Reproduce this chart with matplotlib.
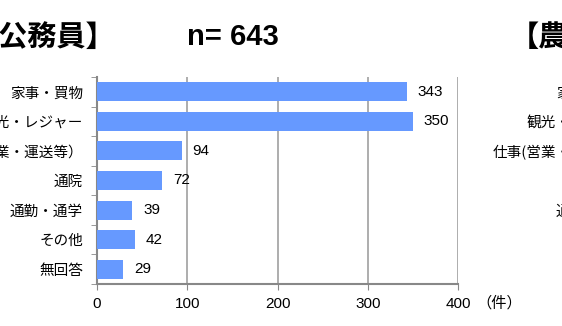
import matplotlib
matplotlib.use("Agg")
import matplotlib.pyplot as plt

plt.rcParams['font.family'] = ['Noto Sans CJK JP', 'DejaVu Sans']

# データ
categories = ['家事・買物', '観光・レジャー', '仕事(営業・運送等）', '通院', '通勤・通学', 'その他', '無回答']
values = [343, 350, 94, 72, 39, 42, 29]
xticks = [0, 100, 200, 300, 400]
title_left = '【公務員】'
title_n = 'n= 643'
title_next = '【農'

W, H = 562, 326
fig = plt.figure(figsize=(W / 100, H / 100), dpi=100)

def box(l, t, r, b):
    return [l / W, (H - b) / H, (r - l) / W, (b - t) / H]

ax = fig.add_axes(box(97, 77, 458, 284))
ypos = list(range(len(categories)))
ax.barh(ypos, values, height=0.64, color='#6699FF', zorder=3)
for y, v in zip(ypos, values):
    ax.text(v + 12, y, str(v), va='center', ha='left', fontsize=11,
            family='Liberation Sans', color='black')

ax.set_xlim(0, 400)
ax.set_ylim(len(categories) - 0.5, -0.5)
ax.set_xticks(xticks)
ax.set_xticklabels([str(t) for t in xticks], family='Liberation Sans', fontsize=11)
ax.set_yticks(ypos)
ax.set_yticklabels(categories, fontsize=10.5)
ax.set_yticks([i + 0.5 for i in range(-1, len(categories))], minor=True)
ax.tick_params(axis='y', which='major', length=0, pad=10)
ax.tick_params(axis='y', which='minor', length=4, color='#888888')
ax.tick_params(axis='x', length=4, color='#888888', pad=5)
ax.grid(axis='x', color='#A0A0A0', linewidth=1.2, zorder=0)
for s in ['top', 'right']:
    ax.spines[s].set_visible(False)
for s in ['left', 'bottom']:
    ax.spines[s].set_color('#888888')
    ax.spines[s].set_linewidth(1.5)
ax.text(1.05, -0.09, '（件）', transform=ax.transAxes, fontsize=11, va='center', ha='left')

# 次のグラフ（右側、一部のみ表示）
ax2 = fig.add_axes(box(643, 77, 1004, 284))
ax2.set_ylim(len(categories) - 0.5, -0.5)
ax2.set_yticks(ypos)
ax2.set_yticklabels(categories, fontsize=10.5)
ax2.tick_params(axis='y', length=0, pad=10)
ax2.set_xticks([])
for s in ax2.spines.values():
    s.set_visible(False)

# タイトル
fig.text(115 / W, 1 - 37 / H, title_left, ha='right', va='center', fontsize=21,
         fontweight='bold')
fig.text(233 / W, 1 - 37 / H, title_n, ha='center', va='center', fontsize=21,
         fontweight='bold', family='Liberation Sans')
fig.text(510 / W, 1 - 37 / H, title_next, ha='left', va='center', fontsize=21,
         fontweight='bold')

fig.savefig('out.png', dpi=100)
